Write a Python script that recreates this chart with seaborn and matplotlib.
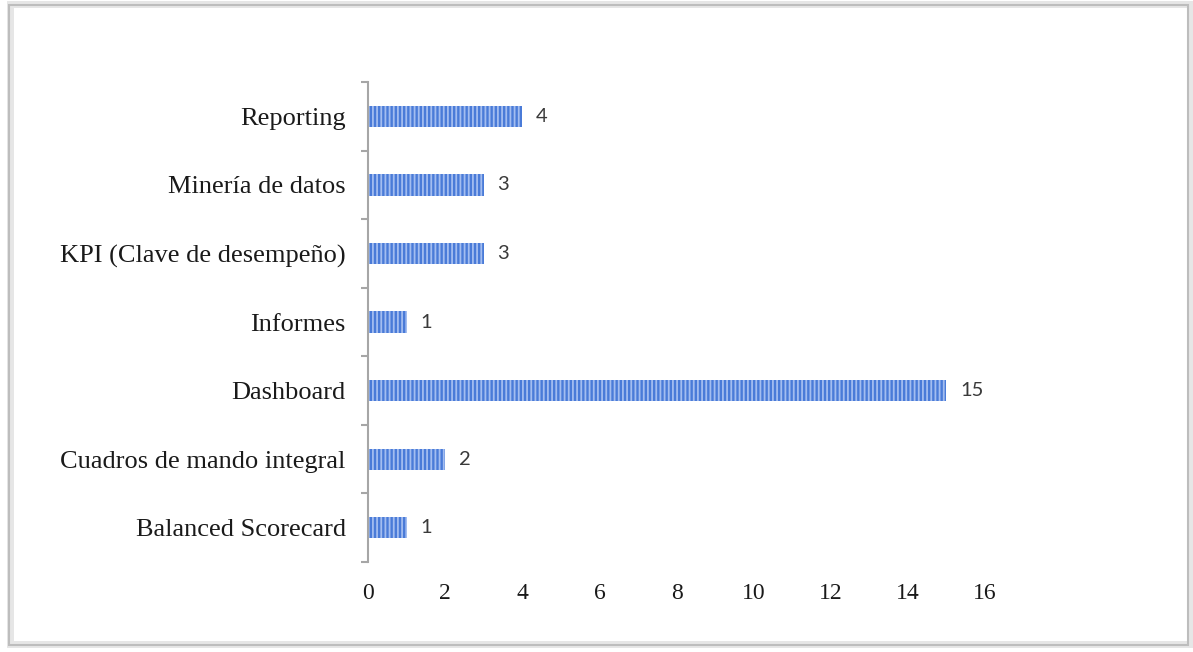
import matplotlib
matplotlib.use("Agg")
import matplotlib.pyplot as plt
from matplotlib.patches import Rectangle
from matplotlib.ticker import FixedLocator
import seaborn as sns
import pandas as pd

categories = [
    "Reporting",
    "Minería de datos",
    "KPI (Clave de desempeño)",
    "Informes",
    "Dashboard",
    "Cuadros de mando integral",
    "Balanced Scorecard",
]
counts = [4, 3, 3, 1, 15, 2, 1]
x_ticks = [0, 2, 4, 6, 8, 10, 12, 14, 16]

df = pd.DataFrame({"categoria": categories, "frecuencia": counts})

sns.set_theme(style="white")
plt.rcParams["hatch.linewidth"] = 1.3

fig = plt.figure(figsize=(11.93, 6.52), dpi=100)
fig.patch.set_facecolor("white")
ax = fig.add_axes([0.3085, 0.138, 0.5172, 0.736])

sns.barplot(
    data=df, x="frecuencia", y="categoria", order=categories,
    orient="h", color="#4a7bd8", width=0.31, saturation=1,
    edgecolor="#a3bdf0", linewidth=0, hatch="||||", ax=ax,
)

ax.set_xlim(0, 16)
ax.set_ylim(len(categories) - 0.5, -0.5)
ax.set_xticks(x_ticks)
ax.set_xticklabels([str(t) for t in x_ticks])
ax.set_xlabel("")
ax.set_ylabel("")

for side in ["top", "right", "bottom"]:
    ax.spines[side].set_visible(False)
ax.spines["left"].set_color("#a6a6a6")
ax.spines["left"].set_linewidth(1.5)

serif = ["Liberation Serif", "DejaVu Serif"]
ax.tick_params(axis="y", which="major", length=0, pad=16)
ax.tick_params(axis="x", which="major", length=0, pad=15)
for lbl in ax.get_yticklabels():
    lbl.set_fontfamily(serif)
    lbl.set_fontsize(19)
    lbl.set_color("#1a1a1a")
for lbl in ax.get_xticklabels():
    lbl.set_fontfamily(serif)
    lbl.set_fontsize(17)
    lbl.set_color("#1a1a1a")

# boundary ticks between categories on the value axis line
ax.yaxis.set_minor_locator(FixedLocator([i - 0.5 for i in range(len(categories) + 1)]))
ax.tick_params(axis="y", which="minor", length=5, width=1.5, color="#a6a6a6",
               direction="out", left=True)

for cont in ax.containers:
    ax.bar_label(cont, labels=[str(v) for v in counts], padding=10,
                 fontsize=14.5, family=["Lato", "DejaVu Sans"], color="#3a3a3a")

# framed border with soft shadow around the figure
fig.patches.append(Rectangle((10 / 1193, 8 / 652), 1180 / 1193, 640 / 652,
                             transform=fig.transFigure, fill=False,
                             edgecolor="#e6e6e6", linewidth=5, zorder=0))
fig.patches.append(Rectangle((9 / 1193, 7 / 652), 1179 / 1193, 640 / 652,
                             transform=fig.transFigure, fill=False,
                             edgecolor="#bdbdbd", linewidth=1.5, zorder=1))

fig.savefig("out.png", dpi=100)
